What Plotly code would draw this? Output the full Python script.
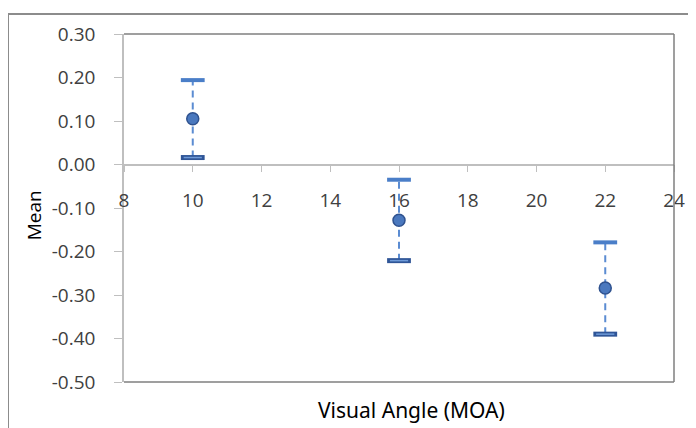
import plotly.graph_objects as go

# Data
visual_angle = [10, 16, 22]
mean_values = [0.105, -0.128, -0.284]
upper_values = [0.194, -0.035, -0.179]
lower_values = [0.016, -0.221, -0.390]

y_tick_vals = [0.3, 0.2, 0.1, 0.0, -0.1, -0.2, -0.3, -0.4, -0.5]
y_tick_text = ["0.30", "0.20", "0.10", "0.00", "-0.10", "-0.20", "-0.30", "-0.40", "-0.50"]
x_tick_vals = [8, 10, 12, 14, 16, 18, 20, 22, 24]

x_title = "Visual Angle (MOA)"
y_title = "Mean"

# build dashed error segments from data arrays
seg_x, seg_y = [], []
for x, lo, hi in zip(visual_angle, lower_values, upper_values):
    seg_x += [x, x, None]
    seg_y += [lo, hi, None]

fig = go.Figure()
fig.add_trace(go.Scatter(x=seg_x, y=seg_y, mode="lines",
                         line=dict(color="#5B8CD2", width=2, dash="7px,5px"),
                         hoverinfo="skip", showlegend=False))
fig.add_trace(go.Scatter(x=visual_angle, y=upper_values, mode="markers",
                         marker=dict(symbol="line-ew", size=17,
                                     line=dict(color="#4A7EC8", width=4)),
                         showlegend=False))
fig.add_trace(go.Scatter(x=visual_angle, y=lower_values, mode="markers",
                         marker=dict(symbol="line-ew", size=17,
                                     line=dict(color="#2F5597", width=5)),
                         showlegend=False))
fig.add_trace(go.Scatter(x=visual_angle, y=lower_values, mode="markers",
                         marker=dict(symbol="line-ew", size=13,
                                     line=dict(color="#6E9AD8", width=1.5)),
                         showlegend=False))
fig.add_trace(go.Scatter(x=visual_angle, y=mean_values, mode="markers",
                         marker=dict(symbol="circle", size=12, color="#4A78BE",
                                     line=dict(color="#2F528F", width=1.5)),
                         showlegend=False))

tick_font = dict(family="Open Sans", size=19, color="#404040")

fig.update_layout(
    width=688, height=420,
    margin=dict(l=116, r=22, t=26, b=46),
    paper_bgcolor="white", plot_bgcolor="white",
    xaxis=dict(range=[8, 24], tickvals=x_tick_vals, anchor="free",
               position=0.625, showline=True, linecolor="#BFBFBF", linewidth=1.5,
               ticks="outside", ticklen=7, tickcolor="#BFBFBF", tickwidth=1,
               ticklabelstandoff=12,
               showgrid=False, zeroline=False, tickfont=tick_font),
    yaxis=dict(range=[-0.5, 0.3], tickvals=y_tick_vals, ticktext=y_tick_text,
               showline=True, linecolor="#BFBFBF", linewidth=1.5,
               ticks="outside", ticklen=8, tickcolor="#BFBFBF", tickwidth=1,
               ticklabelstandoff=15,
               showgrid=False, zeroline=False, tickfont=tick_font),
    shapes=[
        # plot area border (top, right, bottom)
        dict(type="line", xref="paper", yref="paper", x0=0, x1=1, y0=1, y1=1,
             line=dict(color="#7F7F7F", width=1.5)),
        dict(type="line", xref="paper", yref="paper", x0=1, x1=1, y0=0, y1=1,
             line=dict(color="#7F7F7F", width=1.5)),
        dict(type="line", xref="paper", yref="paper", x0=0, x1=1, y0=0, y1=0,
             line=dict(color="#7F7F7F", width=1.5)),
        # outer chart border
        dict(type="rect", xref="paper", yref="paper", x0=-0.2109, x1=2,
             y0=-1, y1=1.0575, line=dict(color="#8C8C8C", width=2)),
    ],
    annotations=[
        dict(text=x_title, xref="paper", yref="paper", x=0.5236, y=-0.0805,
             xanchor="center", yanchor="middle", showarrow=False,
             font=dict(family="Noto Sans", size=21, color="#000000")),
        dict(text=y_title, xref="paper", yref="paper", x=-0.163, y=0.48,
             xanchor="center", yanchor="middle", showarrow=False, textangle=-90,
             font=dict(family="Open Sans", size=19, color="#000000")),
    ],
)

fig.write_html("out.html")
